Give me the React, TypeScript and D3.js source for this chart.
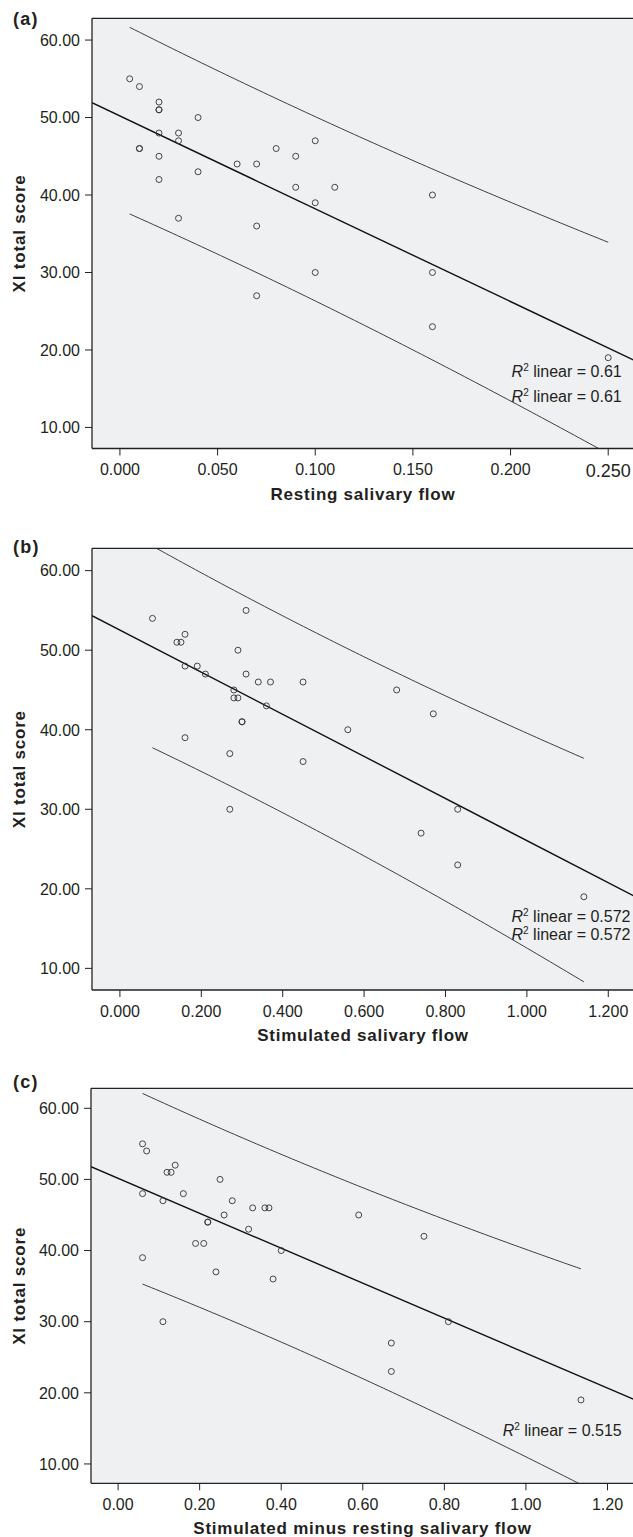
import React from "react";
import * as d3 from "d3";

// ---------- data ----------
const restingFlow = [0.005, 0.01, 0.02, 0.02, 0.02, 0.01, 0.01, 0.02, 0.03, 0.03, 0.04, 0.02, 0.02, 0.04, 0.03, 0.06, 0.07, 0.07, 0.08, 0.09, 0.09, 0.10, 0.10, 0.11, 0.16, 0.07, 0.10, 0.16, 0.16, 0.25];
const restingScore = [55, 54, 52, 51, 51, 46, 46, 48, 48, 47, 50, 45, 42, 43, 37, 44, 44, 36, 46, 45, 41, 47, 39, 41, 40, 27, 30, 30, 23, 19];

const stimFlow = [0.08, 0.31, 0.14, 0.15, 0.16, 0.29, 0.16, 0.19, 0.21, 0.31, 0.34, 0.37, 0.45, 0.28, 0.28, 0.29, 0.36, 0.30, 0.30, 0.16, 0.68, 0.77, 0.56, 0.27, 0.45, 0.27, 0.74, 0.83, 0.83, 1.14];
const stimScore = [54, 55, 51, 51, 52, 50, 48, 48, 47, 47, 46, 46, 46, 45, 44, 44, 43, 41, 41, 39, 45, 42, 40, 37, 36, 30, 27, 30, 23, 19];

const diffFlow = [0.06, 0.07, 0.12, 0.13, 0.14, 0.25, 0.06, 0.16, 0.11, 0.28, 0.26, 0.33, 0.36, 0.37, 0.22, 0.22, 0.32, 0.19, 0.21, 0.40, 0.06, 0.24, 0.38, 0.59, 0.75, 0.11, 0.67, 0.81, 0.67, 1.135];
const diffScore = [55, 54, 51, 51, 52, 50, 48, 48, 47, 47, 45, 46, 46, 46, 44, 44, 43, 41, 41, 40, 39, 37, 36, 45, 42, 30, 27, 30, 23, 19];

const yTicks = [10, 20, 30, 40, 50, 60];
const restingTicks = [0, 0.05, 0.1, 0.15, 0.2, 0.25];
const stimTicks = [0, 0.2, 0.4, 0.6, 0.8, 1.0, 1.2];
const diffTicks = [0, 0.2, 0.4, 0.6, 0.8, 1.0, 1.2];

const r2TextA = ["0.61", "0.61"];
const r2TextB = ["0.572", "0.572"];
const r2TextC = ["0.515"];

const panelLabels = ["(a)", "(b)", "(c)"];
const xTitles = ["Resting salivary flow", "Stimulated salivary flow", "Stimulated minus resting salivary flow"];
const yTitle = "XI total score";

// ---------- helpers ----------
function fitLinear(xs: number[], ys: number[]) {
  const n = xs.length;
  const mx = d3.mean(xs) as number;
  const my = d3.mean(ys) as number;
  let sxx = 0, sxy = 0;
  for (let i = 0; i < n; i++) {
    sxx += (xs[i] - mx) ** 2;
    sxy += (xs[i] - mx) * (ys[i] - my);
  }
  const b = sxy / sxx;
  const a = my - b * mx;
  let sse = 0;
  for (let i = 0; i < n; i++) sse += (ys[i] - a - b * xs[i]) ** 2;
  const s = Math.sqrt(sse / (n - 2));
  const t = 2.0484; // t(0.975, df = 28)
  const half = (x: number) => t * s * Math.sqrt(1 + 1 / n + (x - mx) ** 2 / sxx);
  return { a, b, half };
}

const FONT = "'Liberation Sans', Arial, Helvetica, sans-serif";
const TXT = "#231f20";

type PanelProps = {
  id: string;
  xs: number[];
  ys: number[];
  xTicks: number[];
  fmt: (v: number) => string;
  xDomain: [number, number];
  left: number;
  right: number;
  top: number;
  bottom: number;
  label: string;
  labelY: number;
  title: string;
  r2: string[];
  r2Right: number;
  r2Base: number[];
  bigLastTick?: boolean;
};

function Panel(p: PanelProps) {
  const x = d3.scaleLinear().domain(p.xDomain).range([p.left, p.right]);
  const y = d3.scaleLinear().domain([7.28, 62.81]).range([p.bottom, p.top]);
  const fit = fitLinear(p.xs, p.ys);
  const [x0, x1] = p.xDomain;
  const fitLine = d3.line<number>().x((v) => x(v)).y((v) => y(fit.a + fit.b * v))([x0, x1]);
  const xmin = d3.min(p.xs) as number;
  const xmax = d3.max(p.xs) as number;
  const samples = d3.range(0, 101).map((i) => xmin + ((xmax - xmin) * i) / 100);
  const upper = d3.line<number>().x((v) => x(v)).y((v) => y(fit.a + fit.b * v + fit.half(v)))(samples);
  const lower = d3.line<number>().x((v) => x(v)).y((v) => y(fit.a + fit.b * v - fit.half(v)))(samples);
  const clipId = `clip-${p.id}`;
  const cy = (p.top + p.bottom) / 2;
  return (
    <g>
      <defs>
        <clipPath id={clipId}>
          <rect x={p.left} y={p.top} width={p.right - p.left} height={p.bottom - p.top} />
        </clipPath>
      </defs>
      <rect x={p.left} y={p.top} width={p.right - p.left + 10} height={p.bottom - p.top} fill="#eff0f2" />
      <g clipPath={`url(#${clipId})`}>
        <path d={fitLine || ""} fill="none" stroke="#111" strokeWidth={1.4} />
        <path d={upper || ""} fill="none" stroke="#2a2a2a" strokeWidth={0.9} />
        <path d={lower || ""} fill="none" stroke="#2a2a2a" strokeWidth={0.9} />
        {p.xs.map((v, i) => (
          <circle key={i} cx={x(v)} cy={y(p.ys[i])} r={3} fill="none" stroke="#333" strokeWidth={0.9} />
        ))}
      </g>
      {/* frame */}
      <line x1={p.left} x2={p.right + 10} y1={p.top} y2={p.top} stroke="#222" strokeWidth={1.3} />
      <line x1={p.left} x2={p.right + 10} y1={p.bottom} y2={p.bottom} stroke="#222" strokeWidth={1.3} />
      <line x1={p.left} x2={p.left} y1={p.top} y2={p.bottom} stroke="#222" strokeWidth={1.3} />
      {/* y ticks */}
      {yTicks.map((t) => (
        <g key={t}>
          <line x1={p.left - 7} x2={p.left} y1={y(t)} y2={y(t)} stroke="#222" strokeWidth={1} />
          <text x={p.left - 12} y={y(t) + 5.8} textAnchor="end" fontSize={16} fill={TXT} fontFamily={FONT}>
            {d3.format(".2f")(t)}
          </text>
        </g>
      ))}
      {/* x ticks */}
      {p.xTicks.map((t, i) => {
        const big = p.bigLastTick && i === p.xTicks.length - 1;
        return (
          <g key={t}>
            <line x1={x(t)} x2={x(t)} y1={p.bottom} y2={p.bottom + 7} stroke="#222" strokeWidth={1} />
            <text x={x(t)} y={p.bottom + (big ? 28 : 26.5)} textAnchor="middle" fontSize={big ? 18 : 16} fill={TXT} fontFamily={FONT}>
              {p.fmt(t)}
            </text>
          </g>
        );
      })}
      {/* R^2 labels */}
      {p.r2.map((r, i) => (
        <text key={i} x={p.r2Right} y={p.r2Base[i]} textAnchor="end" fontSize={16} fill={TXT} fontFamily={FONT}>
          <tspan fontStyle="italic">R</tspan>
          <tspan fontSize={10} dy={-6}>2</tspan>
          <tspan dy={6}>{` linear = ${r}`}</tspan>
        </text>
      ))}
      {/* titles */}
      <text x={(p.left + p.right) / 2} y={p.bottom + 51} textAnchor="middle" fontSize={17} fontWeight="bold" letterSpacing={0.75} fill={TXT} fontFamily={FONT}>
        {p.title}
      </text>
      <text transform={`translate(25,${cy}) rotate(-90)`} textAnchor="middle" fontSize={17} fontWeight="bold" letterSpacing={0.8} fill={TXT} fontFamily={FONT}>
        {yTitle}
      </text>
      <text x={13} y={p.labelY} fontSize={18} fontWeight="bold" letterSpacing={1.2} fill={TXT} fontFamily={FONT}>
        {p.label}
      </text>
    </g>
  );
}

export default function App() {
  return (
    <div style={{ position: "absolute", left: 0, top: 0, background: "#fff" }}>
      <svg width={633} height={1537} viewBox="0 0 633 1537" style={{ display: "block", background: "#fff" }}>
        <Panel
          id="a"
          xs={restingFlow}
          ys={restingScore}
          xTicks={restingTicks}
          fmt={d3.format(".3f")}
          xDomain={[-0.0143, 0.2632]}
          left={92}
          right={634}
          top={18.3}
          bottom={448.5}
          label={panelLabels[0]}
          labelY={25}
          title={xTitles[0]}
          r2={r2TextA}
          r2Right={621.7}
          r2Base={[377.3, 401.7]}
          bigLastTick
        />
        <Panel
          id="b"
          xs={stimFlow}
          ys={stimScore}
          xTicks={stimTicks}
          fmt={d3.format(".3f")}
          xDomain={[-0.0686, 1.2632]}
          left={92}
          right={634}
          top={548.3}
          bottom={990}
          label={panelLabels[1]}
          labelY={553}
          title={xTitles[1]}
          r2={r2TextB}
          r2Right={630.5}
          r2Base={[921.5, 940]}
        />
        <Panel
          id="c"
          xs={diffFlow}
          ys={diffScore}
          xTicks={diffTicks}
          fmt={d3.format(".2f")}
          xDomain={[-0.0664, 1.265]}
          left={91}
          right={634}
          top={1088.3}
          bottom={1483.3}
          label={panelLabels[2]}
          labelY={1088}
          title={xTitles[2]}
          r2={r2TextC}
          r2Right={621.7}
          r2Base={[1436]}
        />
      </svg>
    </div>
  );
}
